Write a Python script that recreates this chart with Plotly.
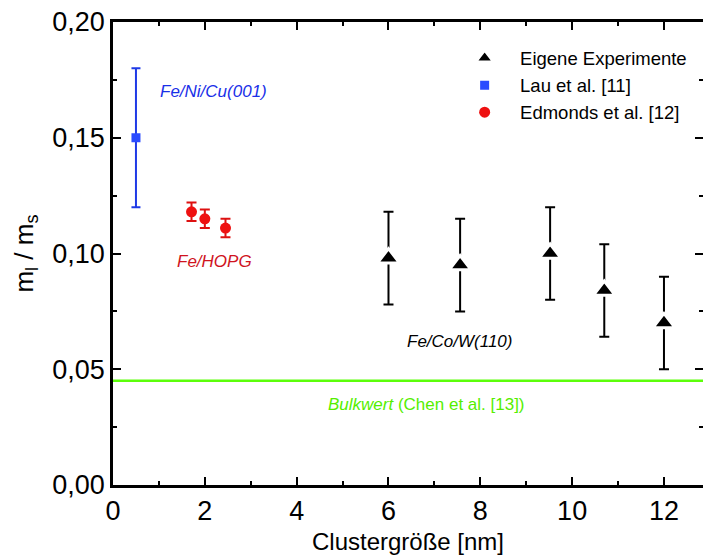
import plotly.graph_objects as go

# ---- data ----
own_x = [6.0, 7.56, 9.52, 10.7, 12.0]
own_y = [0.098, 0.095, 0.100, 0.084, 0.070]
own_err = [0.020, 0.020, 0.020, 0.020, 0.020]

lau_x = [0.5]
lau_y = [0.150]
lau_err = [0.030]

edm_x = [1.71, 2.0, 2.45]
edm_y = [0.118, 0.115, 0.111]
edm_err = [0.004, 0.004, 0.004]

bulk_value = 0.045

x_range = [0, 12.85]
y_range = [0, 0.20]
x_ticks = [0, 2, 4, 6, 8, 10, 12]
y_ticks = [0.00, 0.05, 0.10, 0.15, 0.20]

FONT = "Liberation Sans, Arial, sans-serif"
NB = "\u00a0\u00a0\u00a0"

fig = go.Figure()

fig.add_hline(y=bulk_value, line=dict(color="#5cff0a", width=2.5), layer="below")

fig.add_trace(go.Scatter(
    x=own_x, y=own_y, mode="markers", name=NB + "Eigene Experimente",
    marker=dict(symbol="triangle-up", size=19, color="black",
                line=dict(color="white", width=3)),
    error_y=dict(type="data", array=own_err, color="black", thickness=2, width=5),
))
fig.add_trace(go.Scatter(
    x=lau_x, y=lau_y, mode="markers", name=NB + "Lau et al. [11]",
    marker=dict(symbol="square", size=9, color="#2a4bff"),
    error_y=dict(type="data", array=lau_err, color="#1f3ae6", thickness=2, width=4.5),
))
fig.add_trace(go.Scatter(
    x=edm_x, y=edm_y, mode="markers", name=NB + "Edmonds et al. [12]",
    marker=dict(symbol="circle", size=11, color="#ee1111"),
    error_y=dict(type="data", array=edm_err, color="#dd1111", thickness=2, width=5),
))

ann_font = dict(family=FONT, size=17)
fig.add_annotation(x=0.98, y=0.170, xref="x", yref="y", text="<i>Fe/Ni/Cu(001)</i>",
                   showarrow=False, xanchor="left", yanchor="middle",
                   font=dict(ann_font, color="#1a30e8"))
fig.add_annotation(x=1.35, y=0.0967, xref="x", yref="y", text="<i>Fe/HOPG</i>",
                   showarrow=False, xanchor="left", yanchor="middle",
                   font=dict(ann_font, color="#d0141e"))
fig.add_annotation(x=6.36, y=0.0621, xref="x", yref="y", text="<i>Fe/Co/W(110)</i>",
                   showarrow=False, xanchor="left", yanchor="middle",
                   font=dict(ann_font, color="black"))
fig.add_annotation(x=4.64, y=0.0348, xref="x", yref="y",
                   text="<i>Bulkwert</i> (Chen et al. [13])",
                   showarrow=False, xanchor="left", yanchor="middle",
                   font=dict(ann_font, color="#55ee00"))

axis_common = dict(
    showline=True, linecolor="black", linewidth=2.8, mirror="ticks",
    ticks="inside", ticklen=8, tickwidth=2, tickcolor="black",
    showgrid=False, zeroline=False,
    tickfont=dict(family=FONT, size=27, color="black"),
)

fig.update_xaxes(
    range=x_range, tickvals=x_ticks, ticktext=[str(v) for v in x_ticks],
    minor=dict(dtick=1, ticks="inside", ticklen=4, tickwidth=2, tickcolor="black", showgrid=False),
    title=dict(text="Clustergröße [nm]", font=dict(family=FONT, size=24, color="black"), standoff=8),
    **axis_common,
)
fig.update_yaxes(
    range=y_range, tickvals=y_ticks, tickformat=".2f",
    minor=dict(dtick=0.025, ticks="inside", ticklen=4, tickwidth=2, tickcolor="black", showgrid=False),
    title=dict(text="m<sub>l</sub> / m<sub>s</sub>", font=dict(family=FONT, size=26, color="black"), standoff=12),
    **axis_common,
)

fig.update_layout(
    width=703, height=560,
    margin=dict(l=113, r=0, t=22, b=75, autoexpand=False),
    paper_bgcolor="white", plot_bgcolor="white",
    separators=",.",
    showlegend=True,
    legend=dict(x=0.596, y=0.962, xanchor="left", yanchor="top",
                bgcolor="rgba(0,0,0,0)", borderwidth=0,
                font=dict(family=FONT, size=18.5, color="black"),
                tracegroupgap=0, itemsizing="trace"),
)

fig.write_html("out.html")
